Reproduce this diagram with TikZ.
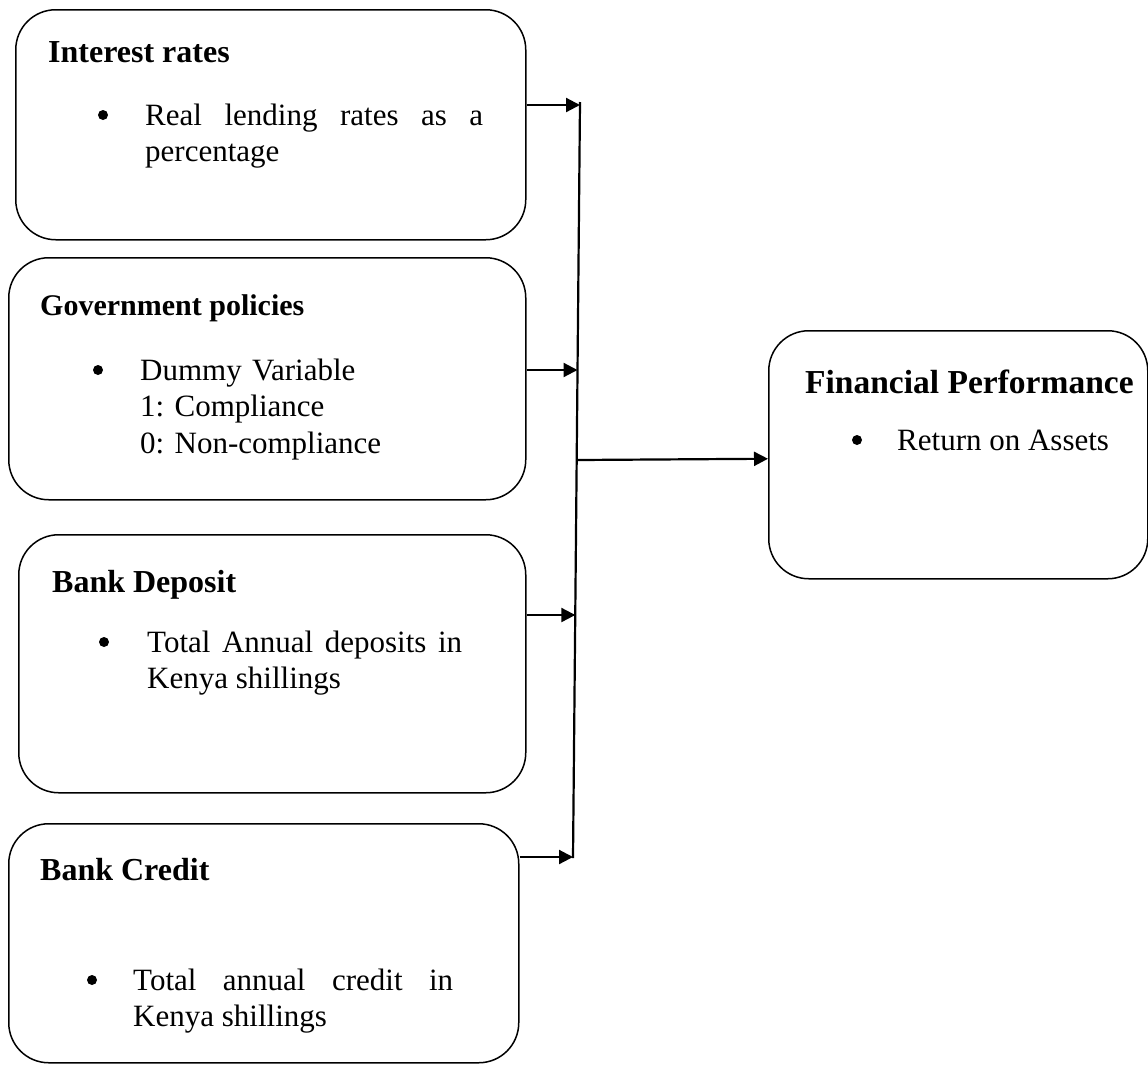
\documentclass[tikz,border=0pt]{standalone}
\usepackage{fontspec}
\setmainfont{Liberation Serif}
\usepackage{tikz}
\usetikzlibrary{positioning, arrows.meta, calc}
\frenchspacing
\tikzset{
	>={Triangle[length=14pt, width=14pt]},
	% riquadro di una variabile
	varbox/.style={draw, line width=1.5pt, rounded corners=40pt, anchor=north west, inner sep=0pt},
	% titolo del riquadro
	head/.style={anchor=base west, inner sep=0pt, font=\fontsize{32}{36.5}\selectfont\bfseries},
	% voce dell'elenco
	entry/.style={anchor=base west, inner sep=0pt, align=justify, font=\fontsize{31}{36.5}\selectfont},
	% pallino dell'elenco
	blt/.style={circle, fill, inner sep=0pt, minimum size=10pt},
	% freccia verso il collettore
	link/.style={->, line width=2.2pt},
	% collettore verticale
	bus/.style={line width=2.2pt},
}

\begin{document}
\begin{tikzpicture}[x=1pt, y=-1pt]
    \useasboundingbox (0,0) rectangle (1148,1066);
    % riquadri
    \node[varbox, minimum width=510pt, minimum height=230pt] (rates)   at (15,9)    {};
    \node[varbox, minimum width=517pt, minimum height=242pt] (policy)  at (8,257)   {};
    \node[varbox, minimum width=507pt, minimum height=258pt] (deposit) at (18,534)  {};
    \node[varbox, minimum width=510pt, minimum height=239pt] (credit)  at (8,823)   {};
    \node[varbox, minimum width=379pt, minimum height=248pt] (perf)    at (768,330) {};
    % titoli
    \node[head] (ratesT)   at (48,62)   {Interest rates};
    \node[head, font=\fontsize{30}{36.5}\selectfont\bfseries] (policyT) at (40,315) {Government policies};
    \node[head] (depositT) at (52,592)  {Bank Deposit};
    \node[head] (creditT)  at (40,880)  {Bank Credit};
    \node[head, font=\fontsize{33.5}{36.5}\selectfont\bfseries] (perfT) at (805,393) {Financial Performance};
    % voci
    \node[blt] (ratesB) at (103,115) {};
    \node[entry, text width=338pt] (ratesE) at (145,125) {Real lending rates as a\linebreak percentage};
    \node[blt] (policyB) at (98,370) {};
    \node[entry, text width=300pt, align=left] (policyE) at (140,380) {Dummy Variable\\1: Compliance\\0: Non-compliance};
    \node[blt] (depositB) at (104,642) {};
    \node[entry, text width=315pt] (depositE) at (147,652) {Total Annual deposits in\linebreak Kenya shillings};
    \node[blt] (creditB) at (92,980) {};
    \node[entry, text width=320pt] (creditE) at (133,990) {Total annual credit in\linebreak Kenya shillings};
    \node[blt] (perfB) at (857,440) {};
    \node[entry, text width=235pt] (perfE) at (897,450) {Return on Assets};
    % collettore e frecce
    \coordinate (bustop) at (580,102);
    \coordinate (busbot) at (573,858);
    \coordinate (j1) at (580,105);
    \coordinate (j2) at (577.5,370);
    \coordinate (j3) at (575.3,615);
    \coordinate (j4) at (573,857);
    \coordinate (jm) at (578,460);
    \draw[bus] (bustop) -- (busbot);
    \draw[link] (rates.east |- j1)   -- (j1);
    \draw[link] (policy.east |- j2)  -- (j2);
    \draw[link] (deposit.east |- j3) -- (j3);
    \draw[link] (credit.east |- j4)  -- (j4);
    \draw[link] (jm) -- ($(perf.west)+(0,4)$);
\end{tikzpicture}
\end{document}
